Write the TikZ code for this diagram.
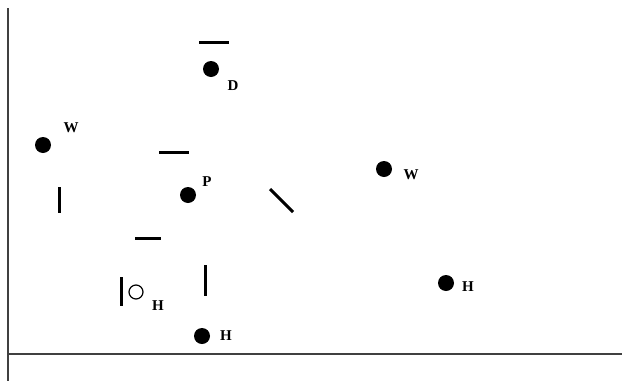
\documentclass[tikz,border=0pt]{standalone}
\usepackage{fontspec}
\setmainfont{Liberation Serif}
\usetikzlibrary{positioning}

\begin{document}
\begin{tikzpicture}[
  x=1pt,y=-1pt,
  dot/.style={circle,fill=black,inner sep=0pt,minimum size=16pt},
  hole/.style={circle,draw=black,line width=1.2pt,fill=white,inner sep=0pt,minimum size=14pt},
  lbl/.style={font=\fontsize{15}{15}\selectfont\bfseries,inner sep=0pt},
  bar/.style={line width=3pt,color=black},
  axis/.style={line width=2pt,color=black!75}
]
  \useasboundingbox (0,0) rectangle (622,381);
  % axes
  \coordinate (top) at (8,8);
  \coordinate (bot) at (8,381);
  \coordinate (orig) at (8,353.5);
  \coordinate (rgt) at (622,353.5);
  \draw[axis] (top)--(bot);
  \draw[axis] (orig)--(rgt);
  % points and their letters
  \foreach \n/\x/\y/\t/\lx/\ly in {
      dD/211/69/D/233/86,
      wL/43/145/W/71/128,
      pP/188/195/P/207/182,
      wR/384/169/W/411/175,
      hR/446/283/H/468/287,
      hB/202/336/H/226/336}{
    \node[dot] (\n) at (\x,\y) {};
    \node[lbl] (\n-t) at (\lx,\ly) {\t};
  }
  \node[hole] (hO) at (136,292) {};
  \node[lbl] (hO-t) at (158,306) {H};
  % bars
  \draw[bar] (199,42)--(229,42);
  \draw[bar] (159,152)--(189,152);
  \draw[bar] (135,238)--(161,238);
  \draw[bar] (59,187)--(59,213);
  \draw[bar] (121,277)--(121,306);
  \draw[bar] (205,265)--(205,296);
  \draw[bar] (270,189)--(293,212);
\end{tikzpicture}
\end{document}
